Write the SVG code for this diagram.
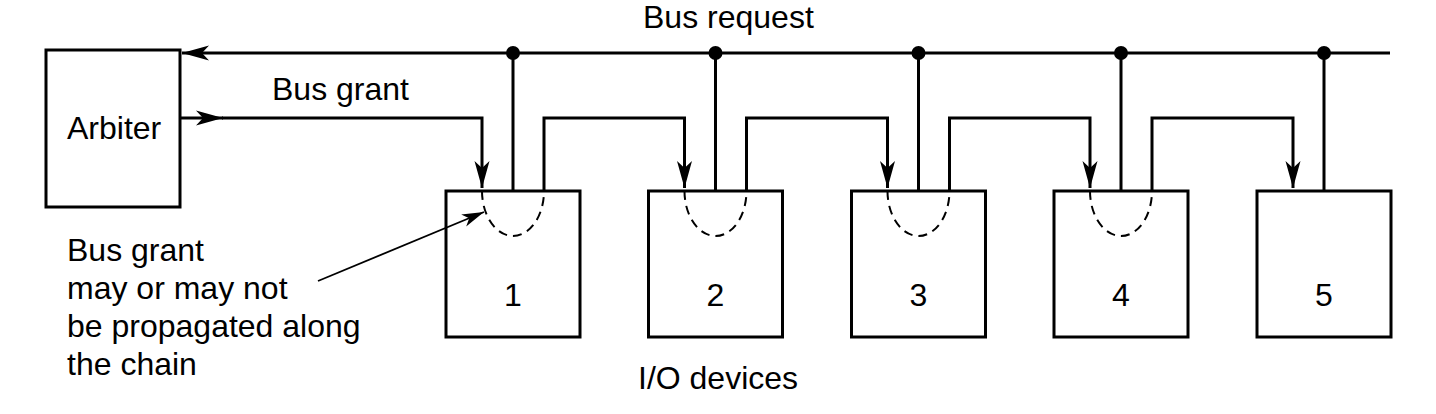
<svg xmlns="http://www.w3.org/2000/svg" width="1436" height="414" viewBox="0 0 1436 414">
  <style>
    text { font-family: "Liberation Sans", Arial, sans-serif; font-size: 32px; fill: #000; }
    .num { text-anchor: middle; }
    .box { fill: #fff; stroke: #000; stroke-width: 3; }
    .wire { fill: none; stroke: #000; stroke-width: 3; }
    .dash { fill: none; stroke: #000; stroke-width: 2; stroke-dasharray: 9 6; }
    .thin { fill: none; stroke: #000; stroke-width: 1.8; }
    .dot { fill: #000; }
  </style>
  <defs>
    <marker id="arr" markerUnits="userSpaceOnUse" viewBox="-28 -9 30 18" markerWidth="30" markerHeight="18" refX="0" refY="0" orient="auto">
      <path d="M0,0 L-27,-7.5 L-20,0 L-27,7.5 Z" fill="#000"/>
    </marker>
    <marker id="arrs" markerUnits="userSpaceOnUse" viewBox="-24 -8 26 16" markerWidth="26" markerHeight="16" refX="0" refY="0" orient="auto">
      <path d="M0,0 L-22,-6.5 L-16,0 L-22,6.5 Z" fill="#000"/>
    </marker>
  </defs>

  <g id="arbiter">
    <rect class="box" x="46" y="50" width="134" height="157"/>
    <text x="67" y="139">Arbiter</text>
  </g>

  <g id="device1">
    <rect class="box" x="446" y="191" width="134" height="146"/>
    <path class="dash" d="M482,191 A31,45 0 0 0 544,191"/>
    <text class="num" x="513" y="306">1</text>
  </g>
  <g id="device2">
    <rect class="box" x="648.5" y="191" width="134" height="146"/>
    <path class="dash" d="M684.5,191 A31,45 0 0 0 746.5,191"/>
    <text class="num" x="715.5" y="306">2</text>
  </g>
  <g id="device3">
    <rect class="box" x="851.5" y="191" width="134" height="146"/>
    <path class="dash" d="M887.5,191 A31,45 0 0 0 949.5,191"/>
    <text class="num" x="918.5" y="306">3</text>
  </g>
  <g id="device4">
    <rect class="box" x="1054" y="191" width="134" height="146"/>
    <path class="dash" d="M1090,191 A31,45 0 0 0 1152,191"/>
    <text class="num" x="1121" y="306">4</text>
  </g>
  <g id="device5">
    <rect class="box" x="1257" y="191" width="134" height="146"/>
    <text class="num" x="1324" y="306">5</text>
  </g>

  <g id="connectors">
    <!-- Bus request line -->
    <path class="wire" d="M1390,53 L182,53" marker-end="url(#arr)"/>
    <path class="wire" d="M513,53 V191 M715.5,53 V191 M918.5,53 V191 M1121,53 V191 M1324,53 V191"/>
    <circle class="dot" cx="513" cy="53" r="7"/>
    <circle class="dot" cx="715.5" cy="53" r="7"/>
    <circle class="dot" cx="918.5" cy="53" r="7"/>
    <circle class="dot" cx="1121" cy="53" r="7"/>
    <circle class="dot" cx="1324" cy="53" r="7"/>
    <!-- Bus grant chain -->
    <path class="wire" d="M180,118 L223,118" marker-end="url(#arr)"/>
    <path class="wire" d="M222,118 L482,118 L482,188" marker-end="url(#arr)"/>
    <path class="wire" d="M544,191 L544,118 L684.5,118 L684.5,188" marker-end="url(#arr)"/>
    <path class="wire" d="M746.5,191 L746.5,118 L887.5,118 L887.5,188" marker-end="url(#arr)"/>
    <path class="wire" d="M949.5,191 L949.5,118 L1090,118 L1090,188" marker-end="url(#arr)"/>
    <path class="wire" d="M1152,191 L1152,118 L1293,118 L1293,188" marker-end="url(#arr)"/>
    <!-- annotation arrow -->
    <path class="thin" d="M318,281 L484,212" marker-end="url(#arrs)"/>
  </g>

  <g id="labels">
    <text x="643" y="28">Bus request</text>
    <text x="272" y="100">Bus grant</text>
    <text x="638" y="389">I/O devices</text>
    <text x="67" y="261">Bus grant</text>
    <text x="67" y="299">may or may not</text>
    <text x="67" y="337">be propagated along</text>
    <text x="67" y="375">the chain</text>
  </g>
</svg>
